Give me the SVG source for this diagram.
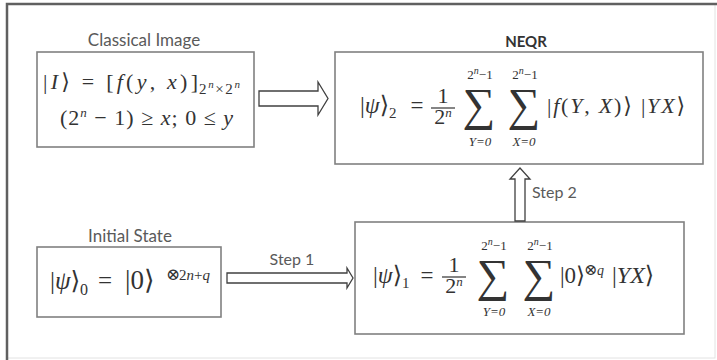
<svg xmlns="http://www.w3.org/2000/svg" width="717" height="360" viewBox="0 0 717 360">
<style>
.box{fill:#fff;stroke:#808080;stroke-width:1.6}
.lbl{font-family:Lato,"Liberation Sans",sans-serif;font-size:17px;fill:#5a5a5a}
.stp{font-size:16px}
.bold{font-weight:bold;fill:#333;font-size:15px}
.m{font-family:"Liberation Serif","DejaVu Serif",serif;font-size:22px;fill:#333}
.i{font-style:italic}
.s{font-size:13px}
.sig{font-family:"Liberation Serif","DejaVu Serif",serif;font-size:46px;fill:#333;text-anchor:middle}
.mid{text-anchor:middle}
.bar{stroke:#333;stroke-width:1.2}
.arrow{fill:#fff;stroke:#404040;stroke-width:1.3;stroke-linejoin:miter}
</style>
<rect width="717" height="360" fill="#fff"/>
<rect x="7" y="4" width="708" height="354" fill="none" stroke="#e2e2e2" stroke-width="1"/>
<path d="M7 360V4H717" fill="none" stroke="#606060" stroke-width="2.5"/>

<g id="node-classical">
<text class="lbl mid" x="144" y="46">Classical Image</text>
<rect class="box" x="37" y="52" width="217" height="95"/>
<text class="m" x="43" y="89" textLength="155" lengthAdjust="spacing">|<tspan class="i">I</tspan>⟩ = [<tspan class="i">f</tspan>(<tspan class="i">y</tspan>, <tspan class="i">x</tspan>)]</text>
<text class="m" x="199" y="94" style="font-size:15px" textLength="41" lengthAdjust="spacing">2<tspan class="i" font-size="11" dy="-6">n</tspan><tspan dy="6">×2</tspan><tspan class="i" font-size="11" dy="-6">n</tspan></text>
<text class="m" x="60" y="125" textLength="173" lengthAdjust="spacing">(2<tspan class="i" font-size="13" dy="-8">n</tspan><tspan dy="8"> − 1) ≥ </tspan><tspan class="i">x</tspan>; 0 ≤ <tspan class="i">y</tspan></text>
</g>

<g id="node-neqr">
<text class="lbl bold mid" x="526" y="47">NEQR</text>
<rect class="box" x="335" y="52" width="368" height="112"/>
<text class="m" x="360" y="113" style="font-size:24px">|<tspan class="i">ψ</tspan>⟩</text>
<text class="m" x="389" y="118" style="font-size:15px">2</text>
<text class="m mid" x="417" y="113" style="font-size:23px">=</text>
<text class="m mid" x="443" y="103">1</text>
<line class="bar" x1="431" y1="108" x2="455" y2="108"/>
<text class="m mid" x="443" y="124">2<tspan class="i s" dy="-7">n</tspan></text>
<text class="sig" x="479" y="120">∑</text>
<text class="sig" x="524" y="120">∑</text>
<text class="m s mid" x="480" y="79">2<tspan class="i" font-size="10" dy="-5">n</tspan><tspan dy="5">−1</tspan></text>
<text class="m s mid" x="525" y="79">2<tspan class="i" font-size="10" dy="-5">n</tspan><tspan dy="5">−1</tspan></text>
<text class="m s mid i" x="480" y="146">Y=0</text>
<text class="m s mid i" x="524" y="146">X=0</text>
<text class="m" x="547" y="113" textLength="138" lengthAdjust="spacing">|<tspan class="i">f</tspan>(<tspan class="i">Y</tspan>, <tspan class="i">X</tspan>)⟩ |<tspan class="i">YX</tspan>⟩</text>
</g>

<g id="node-initial">
<text class="lbl mid" x="130" y="242">Initial State</text>
<rect class="box" x="37" y="247" width="184" height="70"/>
<text class="m" x="50" y="289" style="font-size:25px">|<tspan class="i">ψ</tspan>⟩</text>
<text class="m" x="80" y="295" style="font-size:16px">0</text>
<text class="m mid" x="105" y="289" style="font-size:25px">=</text>
<text class="m" x="125" y="289" style="font-size:27px">|0⟩</text>
<text class="m" x="166" y="280" style="font-size:17px">⊗</text>
<text class="m" x="179" y="280" style="font-size:15px">2<tspan class="i">n</tspan>+<tspan class="i">q</tspan></text>
</g>

<g id="node-psi1">
<rect class="box" x="355" y="222" width="329" height="112"/>
<text class="m" x="373" y="283" style="font-size:24px">|<tspan class="i">ψ</tspan>⟩</text>
<text class="m" x="402" y="288" style="font-size:15px">1</text>
<text class="m mid" x="427" y="283" style="font-size:23px">=</text>
<text class="m mid" x="454" y="272">1</text>
<line class="bar" x1="442" y1="277" x2="466" y2="277"/>
<text class="m mid" x="454" y="293">2<tspan class="i s" dy="-7">n</tspan></text>
<text class="sig" x="493" y="291">∑</text>
<text class="sig" x="539" y="291">∑</text>
<text class="m s mid" x="494" y="250">2<tspan class="i" font-size="10" dy="-5">n</tspan><tspan dy="5">−1</tspan></text>
<text class="m s mid" x="540" y="250">2<tspan class="i" font-size="10" dy="-5">n</tspan><tspan dy="5">−1</tspan></text>
<text class="m s mid i" x="494" y="316">Y=0</text>
<text class="m s mid i" x="539" y="316">X=0</text>
<text class="m" x="560" y="283" style="font-size:23px">|0⟩</text>
<text class="m" x="584" y="275" style="font-size:16px">⊗</text>
<text class="m i" x="597" y="275" style="font-size:14px">q</text>
<text class="m" x="612" y="283" style="font-size:24px">|<tspan class="i">YX</tspan>⟩</text>
</g>

<g id="connectors">
<polygon class="arrow" points="259,91 318,91 318,82 328,98.5 318,115 318,106 259,106"/>
<polygon class="arrow" points="515,221 515,179 510,179 520,168 530,179 525,179 525,221"/>
<text class="lbl stp" x="532" y="198">Step 2</text>
<polygon class="arrow" points="227,273 347,273 347,268 353,278 347,288 347,283 227,283"/>
<text class="lbl stp mid" x="292" y="265">Step 1</text>
</g>
</svg>
